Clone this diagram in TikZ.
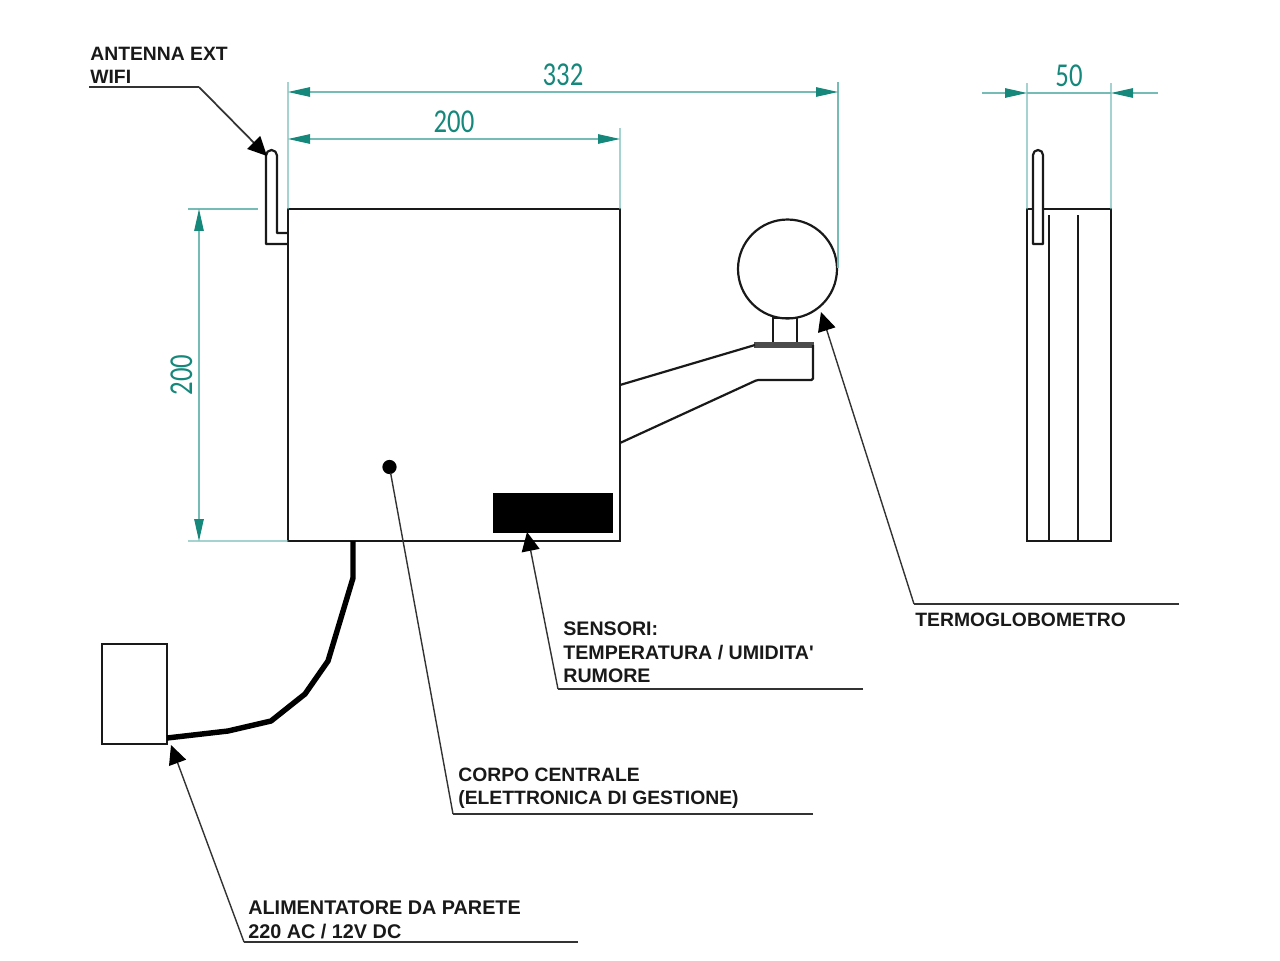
\documentclass[tikz,border=0pt]{standalone}
\usepackage{fontspec}
\setmainfont{Liberation Sans}
\newfontfamily\dimfont[FakeStretch=0.8]{Carlito}
\usetikzlibrary{arrows.meta,positioning}
\definecolor{dimdark}{HTML}{16877B}
\definecolor{dimlight}{HTML}{74BCB5}
\tikzstyle{part} = [draw=black!90,line width=1.25pt,rectangle,inner sep=0,outer sep=0]
\tikzstyle{solidpart} = [part,draw=black,fill=black]
\tikzstyle{outline} = [draw=black!90,line width=1.25pt,line join=round]
\tikzstyle{cable} = [draw=black,line width=3.1pt,line join=round]
\tikzstyle{leader} = [draw=black!80,line width=0.8pt]
\tikzstyle{pointer} = [leader,-{Triangle[length=0.38cm,width=0.36cm,color=black]}]
\tikzstyle{note} = [anchor=south west,align=left,inner sep=0,font=\fontsize{11}{13.3}\selectfont\bfseries,text=black!90]
\tikzstyle{extline} = [draw=dimlight,line width=0.65pt]
\tikzstyle{dimline} = [draw=dimlight,line width=0.65pt,{Triangle[length=0.44cm,width=0.19cm,color=dimdark]}-{Triangle[length=0.44cm,width=0.19cm,color=dimdark]}]
\tikzstyle{dimtip} = [draw=dimlight,line width=0.65pt,-{Triangle[length=0.44cm,width=0.19cm,color=dimdark]}]
\tikzstyle{dimtext} = [inner sep=0,text=dimdark,font=\fontsize{19}{19}\selectfont\dimfont]
\def \wpx {0.02cm}
\begin{document}
\begin{tikzpicture}[x=\wpx,y=-\wpx]
      \useasboundingbox (0,0) rectangle (1280,960);
      % front view
      \node[part,minimum width=6.64cm,minimum height=6.64cm] (body) at (454,375) {};
      \node[solidpart,minimum width=2.36cm,minimum height=0.76cm] (sensor) at (553,513) {};
      \node[solidpart,circle,minimum size=0.24cm] (dot) at (389.5,467) {};
      \node[part,circle,minimum size=1.98cm] (globe) at (787.5,269) {};
      \node[part,minimum width=0.48cm,minimum height=0.5cm] (neck) at (785,330.5) {};
      \node[solidpart,draw=black!70,fill=black!70,minimum width=1.16cm,minimum height=0.08cm] (plate) at (784,345) {};
      \node[part,minimum width=1.3cm,minimum height=2cm] (supply) at (134.5,694) {};
      % arm of the globe
      \coordinate (armtop) at (body.east |- 0,385);
      \coordinate (armlow) at (body.east |- 0,443);
      \draw[outline] (armtop) -- (plate.west);
      \draw[outline,rounded corners=0.03cm] (armlow) -- (757,380) -- (813,380) -- (plate.east);
      % antenna
      \draw[outline] (288,244) -- (266,244) -- (266,155.5) arc[start angle=180,end angle=360,radius=5.5] -- (277,233) -- (288,233);
      % cable
      \coordinate (cabletop) at (353,541);
      \coordinate (cablelow) at (supply.east |- 0,738);
      \draw[cable] (cabletop) -- (353,578) -- (328,661) -- (305,694) -- (271,721) -- (228,731) -- (cablelow);
      % side view
      \node[part,minimum width=1.68cm,minimum height=6.64cm] (side) at (1069,375) {};
      \draw[outline,line width=0.7pt] (1049,215) -- (1049,541);
      \draw[outline,line width=0.7pt] (1078,215) -- (1078,541);
      \draw[outline,fill=white] (1033,244) -- (1033,155) arc[start angle=180,end angle=360,radius=5] -- (1043,244) -- cycle;
      % dimensions
      \draw[extline] (288,82) -- (body.north west);
      \draw[extline] (620,128) -- (body.north east);
      \draw[extline] (838,82) -- (838,268);
      \draw[extline] (188,209) -- (258,209);
      \draw[extline] (188,541) -- (body.south west);
      \draw[dimline] (288,92) -- (838,92) node[dimtext,midway,above=0.12cm]{332};
      \draw[dimline] (288,139) -- (620,139) node[dimtext,pos=0.5,above=0.12cm]{200};
      \draw[dimline] (199,209) -- (199,541) node[dimtext,midway,left=0.12cm,rotate=90,anchor=south]{200};
      \draw[extline] (1027,83) -- (side.north west);
      \draw[extline] (1111,83) -- (side.north east);
      \coordinate (dimleft) at (1027,93);
      \coordinate (dimright) at (1111,93);
      \draw[extline] (dimleft) -- (dimright) node[dimtext,midway,above=0.12cm]{50};
      \draw[dimtip] (982,93) -- (dimleft);
      \draw[dimtip] (1158,93) -- (dimright);
      % leaders
      \coordinate (antennaL) at (89,87);
      \coordinate (antennaK) at (199,87);
      \coordinate (antennaT) at (267,156);
      \node[note] (antennaN) at (90,84) {ANTENNA EXT\\WIFI};
      \draw[leader] (antennaL) -- (antennaK);
      \draw[pointer,line width=1pt] (antennaK) -- (antennaT);
      \coordinate (globoL) at (914,604);
      \coordinate (globoR) at (1179,604);
      \coordinate (globoT) at (821,312);
      \node[note] (globoN) at (915,627) {TERMOGLOBOMETRO};
      \draw[leader] (globoR) -- (globoL);
      \draw[pointer] (globoL) -- (globoT);
      \coordinate (sensorL) at (558,689);
      \coordinate (sensorR) at (863,689);
      \node[note,font=\fontsize{11.17}{13.3}\selectfont\bfseries] (sensorN) at (563,683) {SENSORI:\\TEMPERATURA / UMIDITA\textquotesingle\\RUMORE};
      \draw[leader] (sensorR) -- (sensorL);
      \draw[pointer] (sensorL) -- (sensor.south -| 527,0);
      \coordinate (corpoL) at (453,814);
      \coordinate (corpoR) at (813,814);
      \node[note] (corpoN) at (458,809) {CORPO CENTRALE\\(ELETTRONICA DI GESTIONE)};
      \draw[leader] (corpoR) -- (corpoL);
      \draw[leader] (corpoL) -- (dot);
      \coordinate (supplyL) at (244,942);
      \coordinate (supplyR) at (578,942);
      \coordinate (supplyT) at (171,745);
      \node[note,font=\fontsize{11.27}{13.3}\selectfont\bfseries] (supplyN) at (248,939) {ALIMENTATORE DA PARETE\\220 AC / 12V DC};
      \draw[leader] (supplyR) -- (supplyL);
      \draw[pointer] (supplyL) -- (supplyT);
\end{tikzpicture}
\end{document}
